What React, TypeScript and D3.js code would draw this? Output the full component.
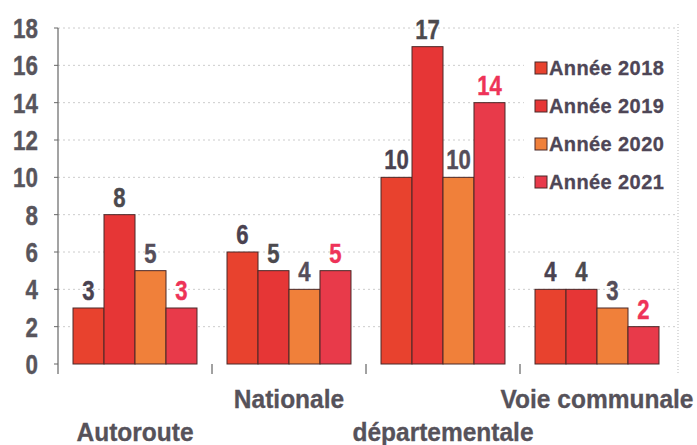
import React from "react";
import * as d3 from "d3";

const categories = ["Autoroute", "Nationale", "départementale", "Voie communale"];
const seriesNames = ["Année 2018", "Année 2019", "Année 2020", "Année 2021"];
const values2018 = [3, 6, 10, 4];
const values2019 = [8, 5, 17, 4];
const values2020 = [5, 4, 10, 3];
const values2021 = [3, 5, 14, 2];
const yTicks = [0, 2, 4, 6, 8, 10, 12, 14, 16, 18];

const seriesValues = [values2018, values2019, values2020, values2021];
const barColors = ["#e8422e", "#e63636", "#f0803a", "#e83a4a"];
const labelColors = ["#4a4250", "#4c4a4e", "#554e5a", "#ee3358"];

const W = 697;
const H = 445;
const left = 58;
const right = 674;
const top = 28;
const bottom = 364;

export default function App() {
  const x = d3.scaleBand<string>().domain(categories).range([left, right]).paddingInner(0.195).paddingOuter(0.0975);
  const xi = d3.scaleBand<string>().domain(seriesNames).range([0, x.bandwidth()]).padding(0);
  const y = d3.scaleLinear().domain([0, 18]).range([bottom, top]);
  const font = "'Liberation Sans', Arial, sans-serif";
  const step = x.step();

  return (
    <svg width={W} height={H} style={{ position: "absolute", left: 0, top: 0, background: "#fff" }} fontFamily={font}>
      <rect x={0} y={0} width={W} height={H} fill="#fff" />
      {/* gridlines */}
      {yTicks.filter((t) => t > 0).map((t) => (
        <line key={t} x1={left} x2={right + 4} y1={y(t)} y2={y(t)} stroke="#cccccc" strokeWidth={1} strokeDasharray="2,3" />
      ))}
      {/* right dotted border */}
      <line x1={678} x2={678} y1={top - 4} y2={bottom + 10} stroke="#bbb" strokeDasharray="1,2" />
      {/* y axis */}
      <line x1={left} x2={left} y1={top} y2={bottom + 10} stroke="#666" strokeWidth={1.2} />
      {yTicks.map((t) => (
        <g key={t}>
          <line x1={left - 4} x2={left} y1={y(t)} y2={y(t)} stroke="#666" />
          <text
            x={0}
            y={0}
            transform={`translate(38,${y(t) + 10}) scale(0.8,1)`}
            textAnchor="end"
            fontSize={28}
            fontWeight="bold"
            fill="#58555c"
            stroke="#58555c"
            strokeWidth={0.4}
          >
            {t}
          </text>
        </g>
      ))}
      {/* category boundary ticks */}
      {categories.slice(1).map((c) => (
        <line key={c} x1={(x(c) as number) - (step - x.bandwidth()) / 2} x2={(x(c) as number) - (step - x.bandwidth()) / 2} y1={bottom} y2={bottom + 10} stroke="#444" />
      ))}
      {/* bars */}
      {categories.map((c, ci) => (
        <g key={c}>
          {seriesNames.map((s, si) => {
            const v = seriesValues[si][ci];
            const bx = (x(c) as number) + (xi(s) as number);
            return (
              <rect key={s} x={bx} y={y(v)} width={xi.bandwidth()} height={bottom - y(v)} fill={barColors[si]} stroke="#4a2828" strokeWidth={1} />
            );
          })}
        </g>
      ))}
      {/* legend */}
      <rect x={524} y={50} width={152} height={150} fill="#fff" />
      {seriesNames.map((s, si) => {
        const ly = 68 + si * 38;
        return (
          <g key={s}>
            <rect x={535} y={ly - 6} width={12} height={12} fill={barColors[si]} stroke="#4a2828" />
            <text x={549} y={ly + 7} fontSize={20} fontWeight="bold" fill="#4e4656" stroke="#4e4656" strokeWidth={0.3} letterSpacing={0.4}>
              {s}
            </text>
          </g>
        );
      })}
      {/* value labels */}
      {categories.map((c, ci) => (
        <g key={c + "l"}>
          {seriesNames.map((s, si) => {
            const v = seriesValues[si][ci];
            const cx = (x(c) as number) + (xi(s) as number) + xi.bandwidth() / 2;
            return (
              <text
                key={s}
                x={0}
                y={0}
                transform={`translate(${cx},${y(v) - 8}) scale(0.82,1)`}
                textAnchor="middle"
                fontSize={27}
                fontWeight="bold"
                fill={labelColors[si]}
                stroke={labelColors[si]}
                strokeWidth={0.4}
              >
                {v}
              </text>
            );
          })}
        </g>
      ))}
      {/* category labels */}
      {categories.map((c, ci) => (
        <text
          key={c + "c"}
          x={0}
          y={0}
          transform={`translate(${(x(c) as number) + x.bandwidth() / 2},${ci % 2 === 0 ? 441 : 408}) scale(0.98,1)`}
          textAnchor="middle"
          fontSize={25}
          fontWeight="bold"
          fill="#56525a"
          stroke="#56525a"
          strokeWidth={0.3}
        >
          {c}
        </text>
      ))}
    </svg>
  );
}
